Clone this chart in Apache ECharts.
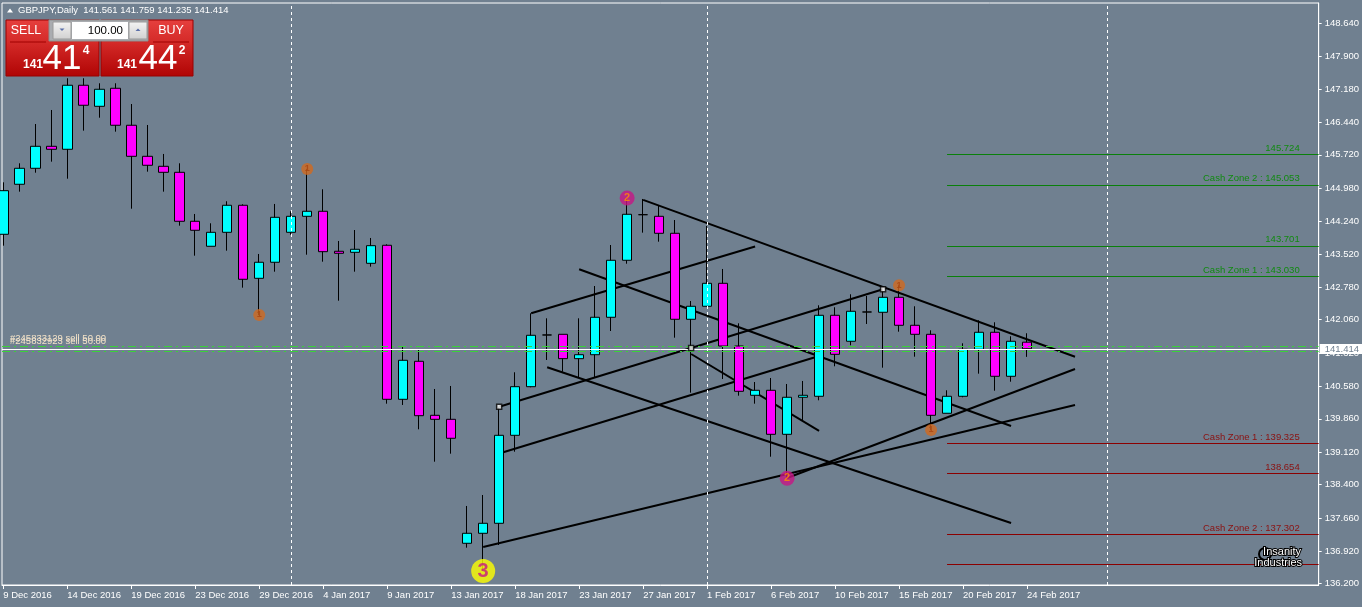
<!DOCTYPE html>
<html><head><meta charset="utf-8">
<script src="https://cdn.jsdelivr.net/npm/echarts@6/dist/echarts.min.js"></script>
<style>html,body{margin:0;padding:0;background:#708090;}#c{width:1362px;height:607px;}</style>
</head><body><div id="c"></div>
<script>
// ---------- DATA ----------
const dates = ['9 Dec 2016','11 Dec 2016','12 Dec 2016','13 Dec 2016','14 Dec 2016','15 Dec 2016','16 Dec 2016','18 Dec 2016','19 Dec 2016','20 Dec 2016','21 Dec 2016','22 Dec 2016','23 Dec 2016','26 Dec 2016','27 Dec 2016','28 Dec 2016','29 Dec 2016','30 Dec 2016','2 Jan 2017','3 Jan 2017','4 Jan 2017','5 Jan 2017','6 Jan 2017','8 Jan 2017','9 Jan 2017','10 Jan 2017','11 Jan 2017','12 Jan 2017','13 Jan 2017','15 Jan 2017','16 Jan 2017','17 Jan 2017','18 Jan 2017','19 Jan 2017','20 Jan 2017','22 Jan 2017','23 Jan 2017','24 Jan 2017','25 Jan 2017','26 Jan 2017','27 Jan 2017','29 Jan 2017','30 Jan 2017','31 Jan 2017','1 Feb 2017','2 Feb 2017','3 Feb 2017','5 Feb 2017','6 Feb 2017','7 Feb 2017','8 Feb 2017','9 Feb 2017','10 Feb 2017','12 Feb 2017','13 Feb 2017','14 Feb 2017','15 Feb 2017','16 Feb 2017','17 Feb 2017','19 Feb 2017','20 Feb 2017','21 Feb 2017','22 Feb 2017','23 Feb 2017','24 Feb 2017'];
const openP  = [143.956,145.066,145.421,145.909,145.843,147.264,146.797,147.197,146.376,145.687,145.465,145.332,144.245,143.690,144.000,144.600,142.979,143.335,144.000,144.355,144.467,143.579,143.556,143.312,143.712,140.293,141.137,139.938,139.849,137.097,137.319,137.541,139.494,140.573,141.721,141.736,141.195,141.283,142.114,143.379,144.391,144.355,143.978,142.069,142.358,142.868,141.476,140.382,140.493,139.516,140.338,140.360,142.158,141.581,142.231,142.225,142.557,141.936,141.736,139.983,140.360,141.403,141.781,140.804,141.561];
const highP  = [145.110,145.532,146.404,146.715,147.419,147.419,147.308,147.308,146.848,146.382,145.739,145.532,144.407,144.200,144.689,144.622,143.519,144.629,144.467,145.406,144.955,143.807,144.051,143.874,143.734,141.476,141.410,140.522,140.589,137.925,138.169,140.129,140.893,142.202,142.091,141.736,142.091,142.808,143.718,144.762,144.740,144.606,144.273,142.475,144.140,143.186,141.980,140.677,140.766,140.633,140.700,142.380,142.336,142.624,142.586,142.779,142.824,142.358,141.825,140.493,141.536,142.047,142.003,141.692,141.759];
const lowP   = [143.703,144.902,145.323,145.568,145.190,146.256,146.544,146.234,144.524,145.346,144.902,144.147,143.481,143.690,143.592,142.771,142.165,143.126,143.947,143.503,143.348,142.482,143.126,143.237,140.196,140.167,139.627,138.908,139.086,136.999,136.482,137.059,139.130,140.560,141.166,140.906,140.782,140.782,141.809,143.303,143.992,143.792,141.661,140.440,142.350,140.744,140.373,140.196,139.019,138.540,139.834,140.271,141.026,141.492,141.965,140.995,141.794,141.239,139.612,139.983,140.338,140.862,140.484,140.684,141.235];
const closeP = [144.924,145.421,145.909,145.843,147.264,146.820,147.175,146.376,145.687,145.488,145.332,144.245,144.045,144.000,144.600,142.957,143.335,144.333,144.355,144.467,143.570,143.534,143.623,143.703,140.293,141.159,139.929,139.849,139.428,137.319,137.541,139.494,140.573,141.714,141.721,141.195,141.283,142.114,143.379,144.400,144.391,143.978,142.069,142.358,142.868,141.476,140.471,140.493,139.516,140.338,140.382,142.158,141.292,142.247,142.231,142.557,141.936,141.736,139.938,140.360,141.403,141.781,140.804,141.581,141.414];

const yTickLabels = ['136.200','136.920','137.660','138.400','139.120','139.860','140.580','141.320','142.060','142.780','143.520','144.240','144.980','145.720','146.440','147.180','147.900','148.640'];
const xLabelIdx = [0,4,8,12,16,20,24,28,32,36,40,44,48,52,56,60,64];
const separatorIdx = [18,44,69];

// trend lines: [startBar, startPrice, endBar, endPrice]
const trendLines = [
  [40,144.720,67,141.239],
  [33,142.202,47,143.685],
  [36,143.179,63,139.701],
  [31,140.129,55,142.735],
  [31,139.090,51,141.255],
  [43,141.299,51,139.590],
  [34,141.004,63,137.547],
  [30,137.015,67,140.167],
  [49,138.547,67,140.966]
];
const selectedLine = 3;

// zigzag markers: [bar, 'high'|'low', label]
const zigzag = [[16,'low','1'],[19,'high','1'],[30,'low','3'],[39,'high','2'],[49,'low','2'],[56,'high','1'],[58,'low','1']];

const levelStart = 59;
const levelPrices = [145.724,145.053,143.701,143.030,139.325,138.654,137.302,136.631];
const levelTexts  = ['145.724','Cash Zone 2 : 145.053','143.701','Cash Zone 1 : 143.030','Cash Zone 1 : 139.325','138.654','Cash Zone 2 : 137.302',''];
const levelSide   = ['up','up','up','up','down','down','down','down'];

const lastPrice = 141.414;
const orderPrices = [141.476,141.365];
const orderTexts = ['#245833129 sell 50.00','#245832923 sell 50.00'];
const header = 'GBPJPY,Daily  141.561 141.759 141.235 141.414';

// ---------- CHART ----------
const FONT = 'Liberation Sans';
const xMin = -0.081, xMax = 82.231;
const yMin = 136.171, yMax = 149.090;

const candleData = dates.map((d,i)=>[i, openP[i], closeP[i], lowP[i], highP[i]]);

const series = [];
trendLines.forEach(t=>{
  series.push({type:'line', data:[[t[0],t[1]],[t[2],t[3]]], symbol:'none', z:1, silent:true,
    lineStyle:{color:'#000', width:2}, animation:false});
});

const markData = [];
separatorIdx.forEach(s=>markData.push({xAxis:s, lineStyle:{color:'#ffffff', type:[3,3], width:1}, label:{show:false}}));
levelPrices.forEach((p,i)=>{
  const col = levelSide[i]==='up' ? '#0a800a' : '#8b0000';
  const txt = levelSide[i]==='up' ? '#108a10' : '#8b1010';
  markData.push([
    {coord:[levelStart,p], lineStyle:{color:col, type:'solid', width:1},
     label:{show:levelTexts[i]!=='', position:'insideEndTop', formatter:levelTexts[i], color:txt, fontSize:9.5, fontFamily:FONT, distance:[19,1]}},
    {coord:[xMax,p]}
  ]);
});
orderPrices.forEach((p,i)=>markData.push({yAxis:p, lineStyle:{color:'#3ad13a', type:[8,4,2,4], width:1},
  label:{show:true, position:'insideStartTop', formatter:orderTexts[i], color:'#f3e2c8', fontSize:9.5, fontFamily:FONT, distance:[8, i===0?2:4]}}));
markData.push({yAxis:lastPrice, lineStyle:{color:'#ffffff', type:'solid', width:1},
  label:{show:true, position:'end', distance:1, formatter:lastPrice.toFixed(3), backgroundColor:'#ffffff', color:'#708090',
    padding:[1,4,0,5], fontSize:9.5, fontFamily:FONT, lineHeight:9}});

series.push({type:'candlestick', data:candleData, barWidth:10, z:2, animation:false,
  itemStyle:{color:'#00ffff', color0:'#ff00ff', borderColor:'#000', borderColor0:'#000', borderWidth:1},
  markLine:{symbol:'none', silent:true, animation:false, data:markData}
});

// selected line anchors
const sl = trendLines[selectedLine];
series.push({type:'scatter', z:5, symbol:'rect', symbolSize:5, silent:true, animation:false,
  itemStyle:{color:'#ffffff', borderColor:'#000', borderWidth:1.5},
  data:[[sl[0],sl[1]],[(sl[0]+sl[2])/2,(sl[1]+sl[3])/2],[sl[2],sl[3]]]});

const zzStyle = {'1':{c:'#d2691e',t:'#a84410',s:12,f:9},'2':{c:'#c71585',t:'#ff8c00',s:15,f:11},'3':{c:'#ffff00',t:'#c71585',s:24,f:20}};
series.push({type:'scatter', z:6, silent:true, animation:false,
  data: zigzag.map(z=>{const st=zzStyle[z[2]]; const v = z[1]==='high'?highP[z[0]]:lowP[z[0]];
    return {value:[z[0],v], symbolSize:st.s, itemStyle:{color:st.c},
      label:{show:true, position:'inside', formatter:z[2], color:st.t, fontSize:st.f, fontFamily:FONT, fontWeight:'bold'}};})
});

const chart = echarts.init(document.getElementById('c'), null, {renderer:'canvas'});
const redGrad = ()=>new echarts.graphic.LinearGradient(0,0,0,1,[{offset:0,color:'#e6403e'},{offset:0.4,color:'#d42a28'},{offset:1,color:'#b00404'}]);
const btnGrad = ()=>new echarts.graphic.LinearGradient(0,0,0,1,[{offset:0,color:'#f4f4f4'},{offset:1,color:'#d0d0d0'}]);
const txt = (x,y,t,size,align,col,extra)=>({type:'text', x:x, y:y, z:120, style:Object.assign({text:t, fill:col||'#fff', font:size+'px "'+FONT+'"', align:align||'left', verticalAlign:'middle'}, extra||{})});

chart.setOption({
  backgroundColor:'#708090',
  animation:false,
  textStyle:{fontFamily:FONT},
  grid:{left:2, right:43, top:3, bottom:22, show:true, backgroundColor:'#708090', borderColor:'#ffffff', borderWidth:1},
  xAxis:{type:'value', min:xMin, max:xMax, splitLine:{show:false},
    axisLine:{show:true, onZero:false, lineStyle:{color:'#fff'}},
    axisTick:{show:true, length:4, lineStyle:{color:'#fff'}, customValues:xLabelIdx},
    axisLabel:{color:'#fff', fontSize:9.5, fontFamily:FONT, align:'left', margin:5, customValues:xLabelIdx, formatter:v=>dates[Math.round(v)]||''}},
  yAxis:{type:'value', position:'right', min:yMin, max:yMax, scale:true, splitLine:{show:false},
    axisLine:{show:true, onZero:false, lineStyle:{color:'#fff'}},
    axisTick:{show:true, length:3, lineStyle:{color:'#fff'}, customValues:yTickLabels.map(Number)},
    axisLabel:{color:'#fff', fontSize:9.5, fontFamily:FONT, margin:6, customValues:yTickLabels.map(Number), formatter:v=>Number(v).toFixed(3)}},
  series:series,
  graphic:[
    {type:'polygon', z:100, shape:{points:[[7,12.5],[10,8.5],[13,12.5]]}, style:{fill:'#fff'}},
    txt(18,10.5,header,9.5),
    // sell / buy boxes
    {type:'rect', z:100, shape:{x:6,y:20,width:93,height:56}, style:{fill:redGrad(), stroke:'#9a0000', lineWidth:1}},
    {type:'rect', z:100, shape:{x:101,y:20,width:92,height:56}, style:{fill:redGrad(), stroke:'#9a0000', lineWidth:1}},
    {type:'line', z:101, shape:{x1:10,y1:42,x2:46,y2:42}, style:{stroke:'#a00000', lineWidth:1}},
    {type:'line', z:101, shape:{x1:153,y1:42,x2:189,y2:42}, style:{stroke:'#a00000', lineWidth:1}},
    // lots panel
    {type:'rect', z:101, shape:{x:49,y:20,width:99,height:21}, style:{fill:'#a9acb0', stroke:'#8c8c8c', lineWidth:1}},
    {type:'rect', z:102, shape:{x:53,y:22,width:18,height:17}, style:{fill:btnGrad(), stroke:'#9a9a9a', lineWidth:1}},
    {type:'rect', z:102, shape:{x:72,y:22,width:56,height:17}, style:{fill:'#ffffff'}},
    {type:'rect', z:102, shape:{x:129,y:22,width:18,height:17}, style:{fill:btnGrad(), stroke:'#9a9a9a', lineWidth:1}},
    {type:'polygon', z:103, shape:{points:[[59.5,28.5],[64.5,28.5],[62,31]]}, style:{fill:'#5a6fa8'}},
    {type:'polygon', z:103, shape:{points:[[135.5,31],[140.5,31],[138,28.5]]}, style:{fill:'#5a6fa8'}},
    txt(123,30.5,'100.00',11.5,'right','#000'),
    txt(26,31,'SELL',12.5,'center'),
    txt(171,31,'BUY',12.5,'center'),
    txt(33,64.5,'141',12,'center','#fff',{fontWeight:'bold'}),
    txt(62,59.5,'41',35,'center'),
    txt(86,50.5,'4',12,'center','#fff',{fontWeight:'bold'}),
    txt(127,64.5,'141',12,'center','#fff',{fontWeight:'bold'}),
    txt(158,59.5,'44',35,'center'),
    txt(182,50.5,'2',12,'center','#fff',{fontWeight:'bold'}),
    // logo
    {type:'circle', z:99, shape:{cx:1265,cy:554,r:6}, style:{fill:'none', stroke:'#000', lineWidth:2}},
    txt(1301,552,'Insanity',11,'right','#fff',{stroke:'#000', lineWidth:2}),
    txt(1302,563,'Industries',11,'right','#fff',{stroke:'#000', lineWidth:2})
  ]
});
</script></body></html>
